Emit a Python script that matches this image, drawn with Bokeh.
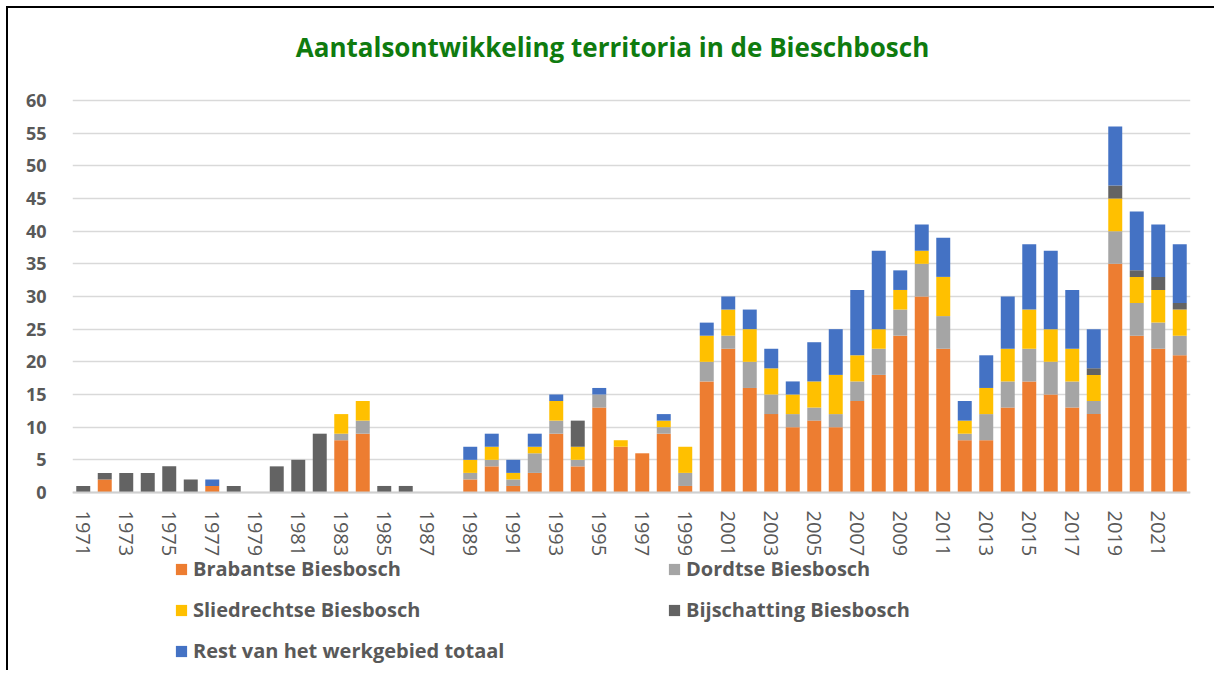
from bokeh.plotting import figure
from bokeh.models import (Range1d, FixedTicker, Legend, LegendItem, ColumnDataSource, Label)
from bokeh.embed import file_html
from bokeh.resources import INLINE

years = list(range(1971, 2023))
brabantse = [0, 2, 0, 0, 0, 0, 1, 0, 0, 0, 0, 0, 8, 9, 0, 0, 0, 0,
             2, 4, 1, 3, 9, 4, 13, 7, 6, 9, 1,
             17, 22, 16, 12, 10, 11, 10, 14, 18, 24, 30, 22, 8, 8, 13, 17, 15, 13, 12, 35, 24, 22, 21]
dordtse = [0, 0, 0, 0, 0, 0, 0, 0, 0, 0, 0, 0, 1, 2, 0, 0, 0, 0,
           1, 1, 1, 3, 2, 1, 2, 0, 0, 1, 2,
           3, 2, 4, 3, 2, 2, 2, 3, 4, 4, 5, 5, 1, 4, 4, 5, 5, 4, 2, 5, 5, 4, 3]
sliedrechtse = [0, 0, 0, 0, 0, 0, 0, 0, 0, 0, 0, 0, 3, 3, 0, 0, 0, 0,
                2, 2, 1, 1, 3, 2, 0, 1, 0, 1, 4,
                4, 4, 5, 4, 3, 4, 6, 4, 3, 3, 2, 6, 2, 4, 5, 6, 5, 5, 4, 5, 4, 5, 4]
bijschatting = [1, 1, 3, 3, 4, 2, 0, 1, 0, 4, 5, 9, 0, 0, 1, 1, 0, 0,
                0, 0, 0, 0, 0, 4, 0, 0, 0, 0, 0,
                0, 0, 0, 0, 0, 0, 0, 0, 0, 0, 0, 0, 0, 0, 0, 0, 0, 0, 1, 2, 1, 2, 1]
rest = [0, 0, 0, 0, 0, 0, 1, 0, 0, 0, 0, 0, 0, 0, 0, 0, 0, 0,
        2, 2, 2, 2, 1, 0, 1, 0, 0, 1, 0,
        2, 2, 3, 3, 2, 6, 7, 10, 12, 3, 4, 6, 3, 5, 8, 10, 12, 9, 6, 9, 9, 8, 9]

series = ["brabantse", "dordtse", "sliedrechtse", "bijschatting", "rest"]
labels = ["Brabantse Biesbosch", "Dordtse Biesbosch", "Sliedrechtse Biesbosch",
          "Bijschatting Biesbosch", "Rest van het werkgebied totaal"]
colors = ["#ED7D31", "#A5A5A5", "#FFC000", "#636363", "#4472C4"]
title_text = "Aantalsontwikkeling territoria in de Bieschbosch"
x_ticks = list(range(1971, 2023, 2))
y_ticks = list(range(0, 61, 5))

source = ColumnDataSource(dict(x=years, brabantse=brabantse, dordtse=dordtse,
                               sliedrechtse=sliedrechtse, bijschatting=bijschatting, rest=rest))

# the frame spans the whole canvas height: room above 60 for the title,
# room below 0 for the year labels and the legend
x_range = Range1d(1970.5, 2022.5)
y_range = Range1d(-26.94, 74.08)
p = figure(width=1208, height=664, output_backend="svg", toolbar_location=None,
           x_range=x_range, y_range=y_range,
           min_border_left=64, min_border_right=26, min_border_top=0, min_border_bottom=4,
           styles={"margin-left": "6px", "margin-top": "6px",
                   "border-left": "2px solid black", "border-top": "2px solid black"})
p.outline_line_color = None
p.background_fill_color = "white"
p.border_fill_color = "white"

renderers = p.vbar_stack(series, x="x", width=0.65, color=colors, line_color=None, source=source)

title = Label(x=(x_range.start + x_range.end) / 2, y=y_ticks[-1], x_offset=-19, y_offset=53,
              text=title_text, text_align="center", text_baseline="middle",
              text_font="Open Sans", text_font_size="26px", text_font_style="bold",
              text_color="#0F7B0F")
p.add_layout(title)

p.xgrid.grid_line_color = None
p.ygrid.grid_line_color = "#D9D9D9"
p.ygrid.grid_line_width = 1.5
p.yaxis.ticker = FixedTicker(ticks=y_ticks)
p.xaxis.ticker = FixedTicker(ticks=x_ticks)

p.yaxis.axis_line_color = None
p.yaxis.major_tick_line_color = None
p.yaxis.minor_tick_line_color = None
p.yaxis.major_label_standoff = 20
p.yaxis.major_label_text_font = "Open Sans"
p.yaxis.major_label_text_font_style = "bold"
p.yaxis.major_label_text_font_size = "18px"
p.yaxis.major_label_text_color = "#595959"

p.xaxis.fixed_location = 0
p.xaxis.axis_line_color = "#D0D0D0"
p.xaxis.axis_line_width = 2
p.xaxis.major_tick_line_color = None
p.xaxis.minor_tick_line_color = None
p.xaxis.major_label_orientation = "vertical"
p.xaxis.major_label_standoff = 12
p.xaxis.major_label_text_font = "Open Sans"
p.xaxis.major_label_text_font_size = "20px"
p.xaxis.major_label_text_color = "#595959"

items = [LegendItem(label=lab, renderers=[r]) for lab, r in zip(labels, renderers)]
legend = Legend(items=items, location=(102, 4), orientation="horizontal", ncols=2,
                glyph_width=14, glyph_height=14, label_standoff=5, spacing=14,
                label_width=460, label_height=26, padding=0, margin=0,
                border_line_color=None, background_fill_alpha=0,
                label_text_font="Open Sans", label_text_font_style="bold",
                label_text_font_size="20px", label_text_color="#595959")
p.add_layout(legend, "center")

open("out.html", "w").write(file_html(p, INLINE))
